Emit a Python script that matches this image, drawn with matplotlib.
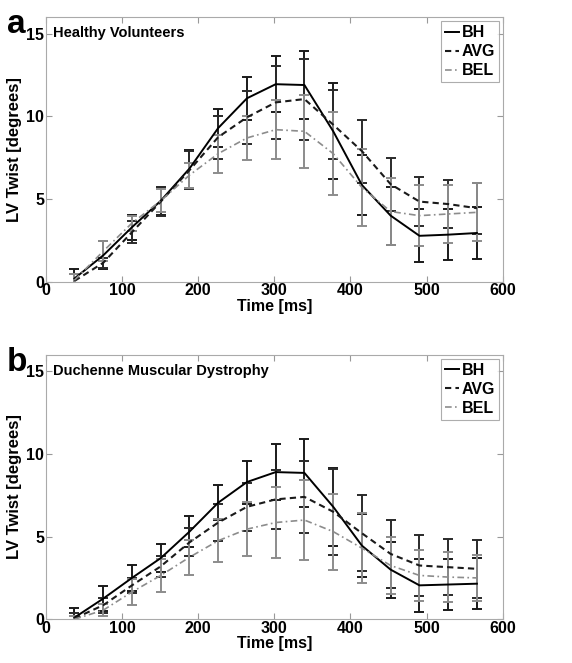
import numpy as np
import matplotlib
matplotlib.use('Agg')
import matplotlib.pyplot as plt
from matplotlib.lines import Line2D

plt.rcParams['font.family'] = ['Liberation Sans', 'DejaVu Sans']
plt.rcParams['font.weight'] = 'bold'

# time points [ms]
time_ms = [37.7, 75.5, 113.2, 151.0, 188.7, 226.4, 264.2, 301.9, 339.6, 377.4,
           415.1, 452.8, 490.6, 528.3, 566.0]

# panel a - healthy volunteers
hv_bh = [0.2, 1.6, 3.3, 4.9, 6.85, 9.3, 11.1, 11.95, 11.9, 9.1, 5.85, 4.0, 2.78, 2.85, 2.95]
hv_bh_sd = [0.55, 0.85, 0.75, 0.85, 1.15, 1.15, 1.3, 1.7, 2.05, 2.9, 1.8, 1.75, 1.6, 1.55, 1.55]
hv_avg = [0.05, 1.15, 3.0, 4.85, 6.75, 8.75, 9.95, 10.85, 11.05, 9.5, 7.9, 5.9, 4.85, 4.7, 4.45]
hv_avg_sd = [0.4, 0.3, 0.65, 0.9, 1.15, 1.3, 1.6, 2.2, 2.45, 2.1, 1.9, 1.6, 1.5, 1.45, 1.55]
hv_bel = [0.1, 1.85, 3.55, 4.9, 6.45, 7.75, 8.7, 9.2, 9.1, 7.75, 5.7, 4.25, 4.0, 4.1, 4.2]
hv_bel_sd = [0.35, 0.6, 0.45, 0.7, 0.75, 1.15, 1.35, 1.8, 2.2, 2.5, 2.35, 2.0, 1.85, 1.75, 1.75]

# panel b - duchenne muscular dystrophy
dmd_bh = [0.1, 1.25, 2.5, 3.7, 5.3, 7.05, 8.3, 8.9, 8.85, 6.8, 4.45, 3.0, 2.05, 2.1, 2.15]
dmd_bh_sd = [0.6, 0.75, 0.8, 0.85, 0.95, 1.05, 1.3, 1.7, 2.05, 2.35, 1.9, 1.7, 1.6, 1.55, 1.55]
dmd_avg = [0.05, 0.85, 2.05, 3.2, 4.65, 5.85, 6.8, 7.25, 7.4, 6.5, 5.2, 3.95, 3.25, 3.15, 3.05]
dmd_avg_sd = [0.35, 0.45, 0.45, 0.65, 0.85, 1.1, 1.45, 1.8, 2.2, 2.6, 2.3, 2.05, 1.85, 1.7, 1.75]
dmd_bel = [0.0, 0.55, 1.65, 2.65, 3.75, 4.75, 5.45, 5.85, 6.0, 5.3, 4.3, 3.25, 2.65, 2.55, 2.5]
dmd_bel_sd = [0.2, 0.35, 0.8, 1.0, 1.05, 1.3, 1.65, 2.15, 2.4, 2.3, 2.1, 1.7, 1.55, 1.5, 1.4]

labels = ['BH', 'AVG', 'BEL']
colors = ['black', '#1a1a1a', '#8c8c8c']
styles = ['-', (0, (3, 2)), (0, (4, 2, 1, 2))]
bar_colors = ['#1a1a1a', '#2a2a2a', '#8c8c8c']
widths = [1.4, 1.5, 1.2]


def draw_panel(ax, series, title, letter):
    handles = []
    for (y, sd), lab, c, ls, bc, lw in zip(series, labels, colors, styles, bar_colors, widths):
        ax.errorbar(time_ms, y, yerr=sd, color=c, ls=ls, lw=lw, ecolor=bc,
                    elinewidth=1.4, capsize=3.5, capthick=1.4)
        handles.append(Line2D([], [], color=c, ls=ls, lw=lw, label=lab))
    ax.set_xlim(0, 600)
    ax.set_ylim(0, 16)
    ax.set_xticks([0, 100, 200, 300, 400, 500, 600])
    ax.set_yticks([0, 5, 10, 15])
    ax.tick_params(direction='in', length=4, color='#999999', labelsize=11.5,
                   top=True, right=True, pad=1)
    for s in ax.spines.values():
        s.set_color('#aaaaaa')
        s.set_linewidth(0.8)
    ax.set_xlabel('Time [ms]', fontsize=11.5, fontweight='bold', labelpad=0.5)
    ax.set_ylabel('LV Twist [degrees]', fontsize=12, fontweight='bold', labelpad=3)
    ax.text(0.015, 0.965, title, transform=ax.transAxes, fontsize=10.5,
            fontweight='bold', va='top', ha='left')
    leg = ax.legend(handles=handles, loc='upper right', handlelength=0.9,
                    handletextpad=0.15, fancybox=False, fontsize=11.5,
                    borderaxespad=0.25, labelspacing=0.25, borderpad=0.25)
    leg.get_frame().set_edgecolor('#999999')
    leg.get_frame().set_linewidth(0.8)
    ax.figure.text(0.012, ax.get_position().y1 + 0.012, letter, fontsize=24,
                   fontweight='bold', va='top', ha='left')


fig = plt.figure(figsize=(5.72, 6.63), dpi=100)
ax1 = fig.add_axes([0.080, 0.575, 0.799, 0.399])
ax2 = fig.add_axes([0.080, 0.066, 0.799, 0.399])

draw_panel(ax1, [(hv_bh, hv_bh_sd), (hv_avg, hv_avg_sd), (hv_bel, hv_bel_sd)],
           'Healthy Volunteers', 'a')
draw_panel(ax2, [(dmd_bh, dmd_bh_sd), (dmd_avg, dmd_avg_sd), (dmd_bel, dmd_bel_sd)],
           'Duchenne Muscular Dystrophy', 'b')

fig.savefig('out.png', dpi=100)
